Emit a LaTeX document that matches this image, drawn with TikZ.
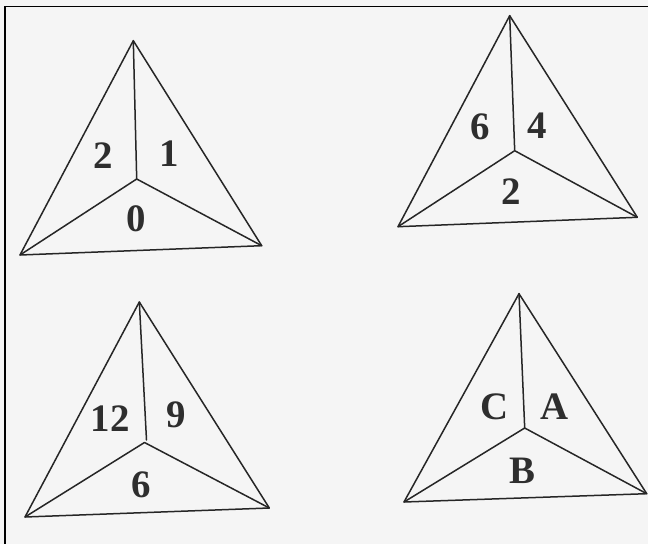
\documentclass[tikz,border=0pt]{standalone}
\usepackage{fontspec}
\setmainfont{Liberation Serif}
\begin{document}
\begin{tikzpicture}[x=1bp,y=-1bp,
  edge/.style={line width=1.5bp, draw=black!85, line join=round, line cap=round},
  lbl/.style={font=\fontsize{39}{39}\selectfont\bfseries, text=black!82, inner sep=0pt, anchor=center},
  frame/.style={line width=1.6bp, draw=black}]
\fill[black!4] (0,0) rectangle (648,544);
\useasboundingbox (0,0) rectangle (648,544);
\draw[frame] (5,544) -- (5,6.5) -- (648,6.5);

% Triangle 1
\coordinate (a1) at (133.3,40.7);
\coordinate (l1) at (20,255);
\coordinate (r1) at (261.7,245.7);
\coordinate (c1) at (136.7,179);
\draw[edge] (a1) -- (l1) -- (r1) -- cycle;
\draw[edge] (a1) -- (c1) (l1) -- (c1) -- (r1);
\node[lbl] (t1a) at (103,156) {2};
\node[lbl] (t1b) at (169,154) {1};
\node[lbl] (t1c) at (136,219) {0};

% Triangle 2
\coordinate (a2) at (509.7,15.7);
\coordinate (l2) at (398,226.7);
\coordinate (r2) at (637.3,217.3);
\coordinate (c2) at (514.7,150.7);
\draw[edge] (a2) -- (l2) -- (r2) -- cycle;
\draw[edge] (a2) -- (c2) (l2) -- (c2) -- (r2);
\node[lbl] (t2a) at (480.7,126.7) {6};
\node[lbl] (t2b) at (537.3,126) {4};
\node[lbl] (t2c) at (511.7,191.7) {2};

% Triangle 3
\coordinate (a3) at (139.3,302);
\coordinate (l3) at (25,517);
\coordinate (r3) at (269.3,508);
\coordinate (c3) at (146.5,440);
\coordinate (c3b) at (144.5,442.5);
\draw[edge] (a3) -- (l3) -- (r3) -- cycle;
\draw[edge] (a3) -- (c3);
\draw[edge] (l3) -- (c3b) -- (r3);
\node[lbl] (t3a) at (110,418.7) {12};
\node[lbl] (t3b) at (176,415.3) {9};
\node[lbl] (t3c) at (141,485.3) {6};

% Triangle 4
\coordinate (a4) at (519,293.7);
\coordinate (l4) at (404,502);
\coordinate (r4) at (646.7,493.7);
\coordinate (c4) at (524.7,428);
\draw[edge] (a4) -- (l4) -- (r4) -- cycle;
\draw[edge] (a4) -- (c4) (l4) -- (c4) -- (r4);
\node[lbl] (t4a) at (494.7,407) {C};
\node[lbl] (t4b) at (554.7,407) {A};
\node[lbl] (t4c) at (522.3,471) {B};
\end{tikzpicture}
\end{document}
